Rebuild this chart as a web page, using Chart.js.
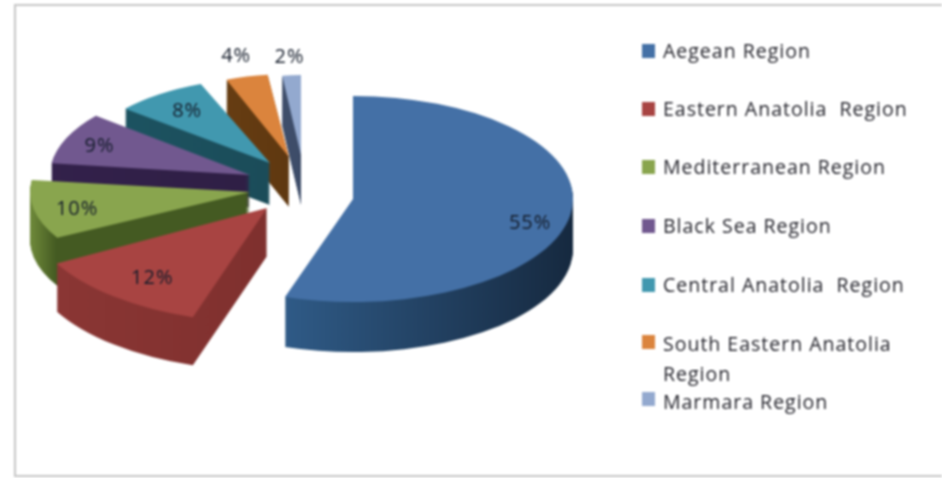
<!DOCTYPE html>
<html>
<head>
<meta charset="utf-8">
<title>Regions</title>
<script src="https://cdn.jsdelivr.net/npm/chart.js@4"></script>
<style>
  html, body { margin: 0; padding: 0; background: #fff; }
  canvas { display: block; filter: blur(0.8px); }
</style>
</head>
<body>
<canvas id="regionChart" width="942" height="478"></canvas>
<script>
// Chart data
const regionLabels = ['Aegean Region', 'Eastern Anatolia  Region', 'Mediterranean Region', 'Black Sea Region',
  'Central Anatolia  Region', ['South Eastern Anatolia', 'Region'], 'Marmara Region'];
const regionShares = [55, 12, 10, 9, 8, 4, 2];

// Slice colours: top face, then the side from left to right
const topColors = ['#4470a6', '#a84442', '#89a54e', '#71588f', '#4198af', '#db843d', '#93a9cf'];
const sideLeft = ['#2f5a86', '#8c3735', '#6f8a3a', '#33214b', '#1d5563', '#734516', '#4d6180'];
const sideRight = ['#16293f', '#7f302e', '#445a22', '#2f1f45', '#1b4c59', '#5f3810', '#3d4c68'];
// Where the side gradient runs, in radii from the slice tip
const sideFrom = [-0.3, -1, -1, -1, -1, -1, -1];
const sideTo = [1, 0, -0.88, 0, 0, 0, 0];

// The original is an exploded 3D pie, so every slice has its own tip and foreshortened radii
const tipX = [353, 267, 250, 250, 270, 289, 301];
const tipY = [199, 208, 192, 175, 163, 157, 155];
const radiusX = [220, 240, 220, 200, 188, 170, 150];
const radiusY = [103, 115, 95, 93, 85, 83, 80];
const sliceDepth = [50, 48, 48, 32, 42, 50, 50];
const drawOrder = [6, 5, 4, 3, 2, 0, 1];

// Percent labels, as a fraction of the radius along the middle of the slice
const labelDistance = [0.815, 0.75, 0.8, 0.82, 0.75, 1.25, 1.22];
const labelNudgeY = [11, 4, 3, 2, 0, 0, 0];

const legendMarkerY = [51, 109, 167, 226, 285, 342, 399];
const legendTextY = [52, 110, 168, 227, 286, 345, 403];
const legendLineGap = 30;

function placeSlice(ctx, arc, i, drop) {
  ctx.translate(tipX[i], tipY[i] + drop);
  ctx.scale(radiusX[i] / arc.outerRadius, radiusY[i] / arc.outerRadius);
  ctx.translate(-arc.x, -arc.y);
}

const piePlugin = {
  id: 'pie3d',
  beforeDraw(chart) {
    const ctx = chart.ctx;
    ctx.save();
    ctx.strokeStyle = '#c6c6c6';
    ctx.lineWidth = 2;
    ctx.beginPath();
    ctx.moveTo(942, 5);
    ctx.lineTo(15, 5);
    ctx.lineTo(15, 476);
    ctx.lineTo(942, 476);
    ctx.stroke();
    ctx.restore();
  },
  beforeDatasetsDraw(chart) {
    const ctx = chart.ctx;
    const arcs = chart.getDatasetMeta(0).data;

    drawOrder.forEach(i => {
      const arc = arcs[i];
      const base = arc.options;
      const R = arc.outerRadius;

      // side of the slice: the same sector stacked downwards
      const grad = ctx.createLinearGradient(arc.x + R * sideFrom[i], 0, arc.x + R * sideTo[i], 0);
      grad.addColorStop(0, sideLeft[i]);
      grad.addColorStop(1, sideRight[i]);
      arc.options = Object.create(base, { backgroundColor: { value: grad } });
      for (let d = sliceDepth[i]; d > 0; d--) {
        ctx.save();
        placeSlice(ctx, arc, i, d);
        arc.draw(ctx);
        ctx.restore();
      }
      arc.options = base;

      ctx.save();
      placeSlice(ctx, arc, i, 0);
      arc.draw(ctx);
      ctx.restore();
    });
    // the stock arcs are replaced by the ones above
    return false;
  },
  afterDraw(chart) {
    const ctx = chart.ctx;
    const arcs = chart.getDatasetMeta(0).data;

    ctx.save();
    ctx.fillStyle = '#141c2a';
    ctx.font = '20px "Open Sans"';
    ctx.letterSpacing = '1px';
    ctx.textAlign = 'center';
    ctx.textBaseline = 'middle';
    arcs.forEach((arc, i) => {
      const mid = (arc.startAngle + arc.endAngle) / 2;
      const x = tipX[i] + Math.cos(mid) * radiusX[i] * labelDistance[i];
      const y = tipY[i] + Math.sin(mid) * radiusY[i] * labelDistance[i] + labelNudgeY[i];
      ctx.fillText(regionShares[i] + '%', x, y);
    });

    // legend, hand spaced like the original
    ctx.font = '19.5px "Open Sans"';
    ctx.textAlign = 'left';
    regionLabels.forEach((label, i) => {
      ctx.fillStyle = topColors[i];
      ctx.fillRect(642, legendMarkerY[i] - 7, 13, 14);
      ctx.fillStyle = '#22222a';
      [].concat(label).forEach((line, n) => {
        ctx.fillText(line, 663, legendTextY[i] + n * legendLineGap);
      });
    });
    ctx.restore();
  }
};

new Chart(document.getElementById('regionChart').getContext('2d'), {
  type: 'pie',
  data: {
    labels: regionLabels,
    datasets: [{
      data: regionShares,
      backgroundColor: topColors,
      borderWidth: 0
    }]
  },
  options: {
    responsive: false,
    animation: false,
    plugins: {
      legend: { display: false },
      tooltip: { enabled: false }
    }
  },
  plugins: [piePlugin]
});
</script>
</body>
</html>
